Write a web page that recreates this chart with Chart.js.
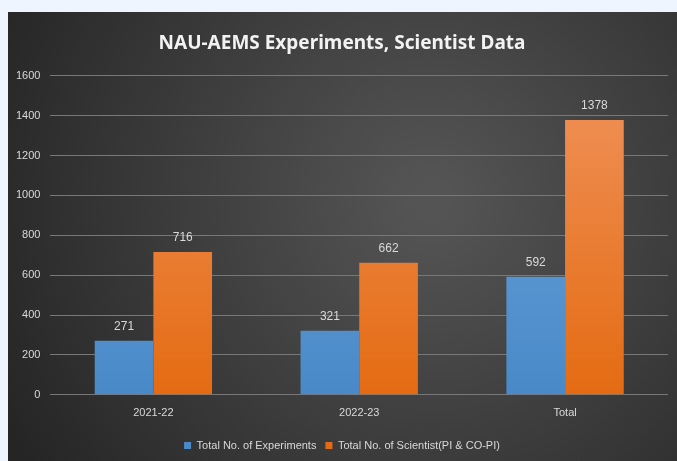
<!DOCTYPE html>
<html>
<head>
<meta charset="utf-8">
<script src="https://cdn.jsdelivr.net/npm/chart.js@4"></script>
<style>
    html, body { margin: 0; padding: 0; background: #eef5ff; }
    #wrap { width: 677px; height: 461px; }
</style>
</head>
<body>
<div id="wrap"><canvas id="chart" width="677" height="461"></canvas></div>
<script>
// Chart data
var categories = ['2021-22', '2022-23', 'Total'];
var experiments = [271, 321, 592];
var scientists = [716, 662, 1378];
var seriesNames = ['Total No. of Experiments', 'Total No. of Scientist(PI & CO-PI)'];
var yTicks = [0, 200, 400, 600, 800, 1000, 1200, 1400, 1600];

var labelFont = "'Liberation Sans', sans-serif";

// Gradient fills for the bars
function barGradient(ctx, top, bottom) {
    var area = ctx.chart.chartArea;
    if (!area) return bottom;
    var g = ctx.chart.ctx.createLinearGradient(0, area.top, 0, area.bottom);
    g.addColorStop(0, top);
    g.addColorStop(1, bottom);
    return g;
}

// Panel background behind the chart
var panelBackground = {
    id: 'panelBackground',
    beforeDraw: function(chart) {
        var c = chart.ctx;
        c.save();
        c.fillStyle = '#eef5ff';
        c.fillRect(0, 0, chart.width, chart.height);
        var x0 = 8, y0 = 12, w = chart.width - x0, h = chart.height - y0;
        var g = c.createRadialGradient(430, 200, 20, 430, 200, 480);
        g.addColorStop(0, '#545454');
        g.addColorStop(1, '#252525');
        c.fillStyle = g;
        c.fillRect(x0, y0, w, h);
        c.restore();
    }
};

// Value labels above each bar
var valueLabels = {
    id: 'valueLabels',
    afterDatasetsDraw: function(chart) {
        var c = chart.ctx;
        c.save();
        c.font = "12px " + labelFont;
        c.fillStyle = '#d9d9d9';
        c.textAlign = 'center';
        c.textBaseline = 'bottom';
        chart.data.datasets.forEach(function(ds, i) {
            chart.getDatasetMeta(i).data.forEach(function(bar, j) {
                c.fillText(ds.data[j], bar.x, bar.y - 8);
            });
        });
        c.restore();
    }
};

new Chart(document.getElementById('chart').getContext('2d'), {
    type: 'bar',
    data: {
        labels: categories,
        datasets: [{
            label: seriesNames[0],
            data: experiments,
            backgroundColor: function(ctx) { return barGradient(ctx, '#6aa7dd', '#4a89c8'); },
            barPercentage: 1,
            categoryPercentage: 0.57
        }, {
            label: seriesNames[1],
            data: scientists,
            backgroundColor: function(ctx) { return barGradient(ctx, '#f0925a', '#e46b12'); },
            barPercentage: 1,
            categoryPercentage: 0.57
        }]
    },
    options: {
        responsive: false,
        animation: false,
        layout: { padding: { left: 16, right: 9, top: 14, bottom: 0 } },
        plugins: {
            title: {
                display: true,
                text: 'NAU-AEMS Experiments, Scientist Data',
                color: '#f2f2f2',
                font: { family: "'Noto Sans', sans-serif", size: 19, weight: 'bold' },
                padding: { top: 18, bottom: 21 }
            },
            legend: {
                position: 'bottom',
                labels: {
                    color: '#d9d9d9',
                    boxWidth: 7,
                    boxHeight: 7,
                    padding: 9,
                    font: { family: labelFont, size: 11 }
                }
            },
            tooltip: { enabled: false }
        },
        scales: {
            x: {
                grid: { display: false, drawTicks: false },
                border: { display: false },
                ticks: { color: '#d9d9d9', font: { family: labelFont, size: 11 }, padding: 12 },
                afterFit: function(scale) { scale.height -= 1; }
            },
            y: {
                min: 0,
                max: 1600,
                afterBuildTicks: function(axis) {
                    axis.ticks = yTicks.map(function(v) { return { value: v }; });
                },
                afterFit: function(scale) { scale.width -= 10; },
                grid: { color: '#787878', lineWidth: 1, drawTicks: false },
                border: { display: false },
                ticks: {
                    color: '#d9d9d9',
                    font: { family: labelFont, size: 11 },
                    padding: 10,
                    callback: function(v) { return String(v); }
                }
            }
        }
    },
    plugins: [panelBackground, valueLabels]
});
</script>
</body>
</html>
